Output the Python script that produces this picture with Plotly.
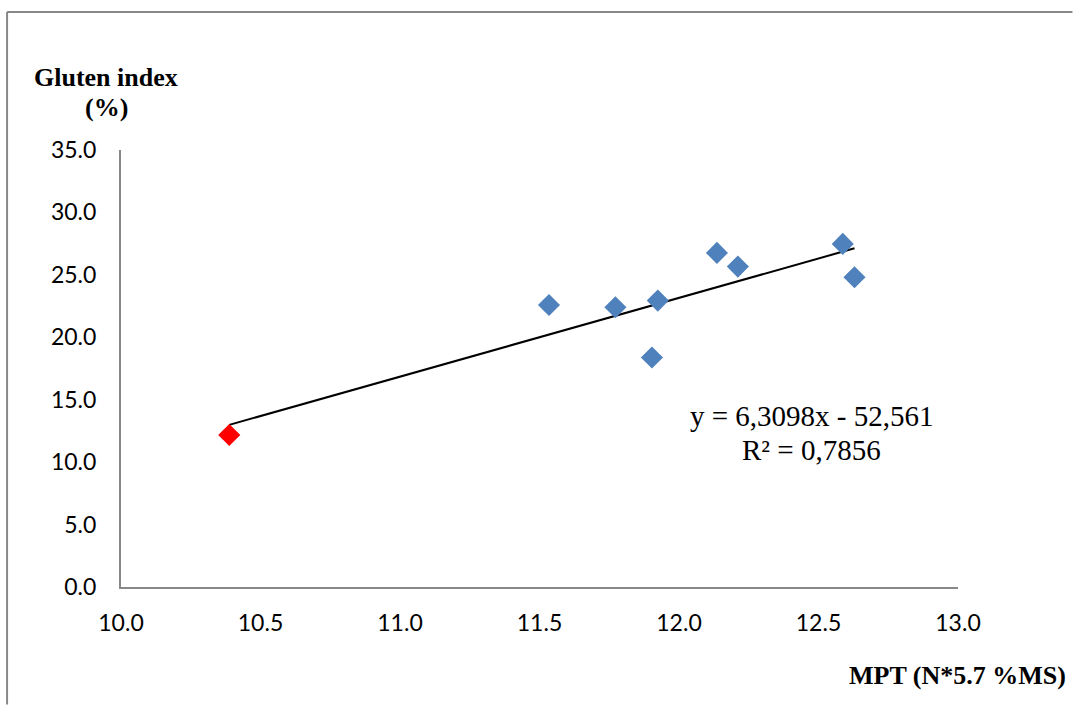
import plotly.graph_objects as go

# Data
x_blue = [11.534, 11.772, 11.924, 11.903, 12.136, 12.211, 12.587, 12.629]
y_blue = [22.59, 22.41, 22.94, 18.38, 26.76, 25.66, 27.48, 24.81]
x_red = [10.388]
y_red = [12.17]
slope = 6.3098
intercept = -52.561
r2 = 0.7856
x_ticks = [10.0, 10.5, 11.0, 11.5, 12.0, 12.5, 13.0]
y_ticks = [0.0, 5.0, 10.0, 15.0, 20.0, 25.0, 30.0, 35.0]

all_x = x_blue + x_red
x_line = [min(all_x), max(all_x)]
y_line = [slope * v + intercept for v in x_line]

W, H = 1073, 705
L, R, T, B = 121, 114.5, 150, 117.7
pw, ph = W - L - R, H - T - B

def px(xp):
    return (xp - L) / pw

def py(yp):
    return (H - B - yp) / ph

fig = go.Figure()
fig.add_trace(go.Scatter(x=x_line, y=y_line, mode="lines",
                         line=dict(color="black", width=2), showlegend=False,
                         hoverinfo="skip"))
fig.add_trace(go.Scatter(x=x_blue, y=y_blue, mode="markers",
                         marker=dict(symbol="diamond", size=17, color="#4F81BD"),
                         showlegend=False))
fig.add_trace(go.Scatter(x=x_red, y=y_red, mode="markers",
                         marker=dict(symbol="diamond", size=17, color="#FF0000"),
                         showlegend=False))

tickfont = dict(family="Lato, 'Open Sans', sans-serif", size=23, color="black")
fig.update_xaxes(range=[10, 13], tickvals=x_ticks, ticktext=[f"{v:.1f}" for v in x_ticks],
                 showgrid=False, zeroline=False, showline=True, linecolor="#888888",
                 linewidth=2, ticks="", tickfont=tickfont, ticklabelstandoff=14)
fig.update_yaxes(range=[0, 35], tickvals=y_ticks, ticktext=[f"{v:.1f}" for v in y_ticks],
                 showgrid=False, zeroline=False, showline=True, linecolor="#888888",
                 linewidth=2, ticks="", tickfont=tickfont, ticklabelstandoff=18)

serif = "'Liberation Serif', 'Times New Roman', serif"
annotations = [
    dict(text="<b>Gluten index</b>", x=px(106), y=py(77), xref="paper", yref="paper",
         showarrow=False, font=dict(family=serif, size=26, color="black"),
         xanchor="center", yanchor="middle"),
    dict(text="<b>(%)</b>", x=px(106), y=py(107), xref="paper", yref="paper",
         showarrow=False, font=dict(family=serif, size=26, color="black"),
         xanchor="center", yanchor="middle"),
    dict(text="<b>MPT (N*5.7 %MS)</b>", x=px(1069), y=py(676), xref="paper", yref="paper",
         showarrow=False, font=dict(family=serif, size=26, color="black"),
         xanchor="right", yanchor="middle"),
    dict(text=f"y = {slope:.4f}x - {abs(intercept):.3f}".replace(".", ","), x=px(812), y=py(416),
         xref="paper", yref="paper", showarrow=False,
         font=dict(family=serif, size=29, color="black"), xanchor="center", yanchor="middle"),
    dict(text=f"R² = {r2:.4f}".replace(".", ","), x=px(812), y=py(450),
         xref="paper", yref="paper", showarrow=False,
         font=dict(family=serif, size=29, color="black"), xanchor="center", yanchor="middle"),
]

shapes = [
    dict(type="line", xref="paper", yref="paper", x0=px(7), x1=px(7), y0=py(12), y1=py(H),
         line=dict(color="#888888", width=2)),
    dict(type="line", xref="paper", yref="paper", x0=px(7), x1=px(W), y0=py(12), y1=py(12),
         line=dict(color="#888888", width=2)),
]

fig.update_layout(width=W, height=H, margin=dict(l=L, r=R, t=T, b=B),
                  paper_bgcolor="white", plot_bgcolor="white",
                  annotations=annotations, shapes=shapes, showlegend=False)

fig.write_html("out.html", config={"displayModeBar": False},
               post_script="document.body.style.margin='0';document.body.style.overflow='hidden';")
